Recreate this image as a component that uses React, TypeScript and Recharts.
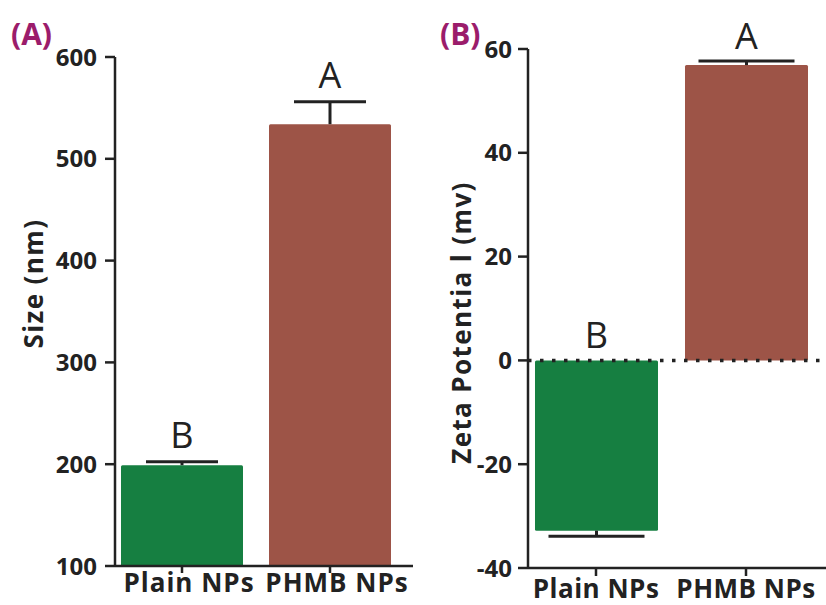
import React from 'react';
import { ComposedChart, Bar, Cell, XAxis, YAxis, ReferenceLine } from 'recharts';

const categories = ['Plain NPs', 'PHMB NPs'];
const barColors = ['#167f41', '#9d5447'];
const groupLetters = ['B', 'A'];

const sizeValues = [199, 534];
const sizeErrors = [3.5, 22];
const sizeTicks = [100, 200, 300, 400, 500, 600];
const sizeDomain = [100, 600];

const zetaValues = [-32.8, 56.9];
const zetaErrors = [1.1, 0.8];
const zetaTicks = [-40, -20, 0, 20, 40, 60];
const zetaDomain = [-40, 60];

const sizeData = categories.map((name, i) => ({ pos: i + 1, name, value: sizeValues[i], err: sizeErrors[i], letter: groupLetters[i] }));
const zetaData = categories.map((name, i) => ({ pos: i + 1, name, value: zetaValues[i], err: zetaErrors[i], letter: groupLetters[i] }));

const INK = '#222';
const FONT = "'Open Sans', sans-serif";

const makeShape = (base: number, capHalf: number, letterGap: number) => (props: any) => {
  const { x, y, width, height, fill, payload } = props;
  const val = payload.value;
  const top = Math.min(y, y + height);
  const h = Math.abs(height);
  const bottom = top + h;
  const ppu = h / Math.abs(val - base);
  const cx = x + width / 2;
  const positive = val >= base;
  const errEnd = positive ? top - payload.err * ppu : bottom + payload.err * ppu;
  const stemStart = positive ? top : bottom;
  const letterY = positive ? errEnd - letterGap : top - letterGap;
  return (
    <g>
      <rect x={x} y={top} width={width} height={h} fill={fill} rx={1.5} />
      <line x1={cx} y1={stemStart} x2={cx} y2={errEnd} stroke={INK} strokeWidth={3} />
      <line x1={cx - capHalf} y1={errEnd} x2={cx + capHalf} y2={errEnd} stroke={INK} strokeWidth={3} />
      <text x={cx} y={letterY} textAnchor="middle" fontFamily={FONT} fontSize={36} fill={INK}>
        {payload.letter}
      </text>
    </g>
  );
};

const yTick = { fontFamily: FONT, fontWeight: 700, fontSize: 24, fill: INK };
const xTickA = { fontFamily: FONT, fontWeight: 700, fontSize: 26, fill: INK, letterSpacing: 1, dx: 7 };
const xTickB = { fontFamily: FONT, fontWeight: 700, fontSize: 26, fill: INK, letterSpacing: 0.5 };
const axisLineStyle = { stroke: INK, strokeWidth: 2.5 };
const yLabelStyle = { fontFamily: FONT, fontWeight: 700, fontSize: 26, fill: INK, letterSpacing: 1.4 };

export default function App() {
  return (
    <div style={{ position: 'absolute', left: 0, top: 0, width: 826, height: 605, background: '#fff' }}>
      <div style={{ position: 'absolute', left: 0, top: 0 }}>
        <ComposedChart width={420} height={605} data={sizeData} margin={{ top: 57, right: 7, bottom: 4, left: 0 }}>
          <XAxis
            type="number"
            dataKey="pos"
            domain={[0.5473, 2.5608]}
            ticks={[1, 2]}
            tickFormatter={(v: number) => categories[v - 1]}
            height={35}
            tick={xTickA}
            tickSize={7}
            tickMargin={1}
            axisLine={axisLineStyle}
            tickLine={axisLineStyle}
          />
          <YAxis
            type="number"
            domain={sizeDomain}
            ticks={sizeTicks}
            width={115}
            tick={yTick}
            tickSize={10}
            tickMargin={8}
            axisLine={axisLineStyle}
            tickLine={axisLineStyle}
            label={{ value: 'Size (nm)', angle: -90, position: 'center', dx: -24, dy: -28, style: yLabelStyle }}
          />
          <Bar dataKey="value" barSize={122} isAnimationActive={false} shape={makeShape(sizeDomain[0], 36, 14)}>
            {sizeData.map((d, i) => (
              <Cell key={d.name} fill={barColors[i]} />
            ))}
          </Bar>
        </ComposedChart>
      </div>
      <div style={{ position: 'absolute', left: 420, top: 0 }}>
        <ComposedChart width={406} height={605} data={zetaData} margin={{ top: 49, right: 0, bottom: 2, left: 0 }}>
          <XAxis
            type="number"
            dataKey="pos"
            domain={[0.5467, 2.5333]}
            ticks={[1, 2]}
            tickFormatter={(v: number) => categories[v - 1]}
            height={35}
            tick={xTickB}
            tickSize={8}
            tickMargin={4}
            axisLine={axisLineStyle}
            tickLine={axisLineStyle}
          />
          <YAxis
            type="number"
            domain={zetaDomain}
            ticks={zetaTicks}
            width={108}
            tick={yTick}
            tickSize={10}
            tickMargin={6}
            axisLine={axisLineStyle}
            tickLine={axisLineStyle}
            label={{ value: 'Zeta Potentia l (mv)', angle: -90, position: 'center', dx: -12, dy: 14, style: yLabelStyle }}
          />
          <Bar dataKey="value" barSize={123} isAnimationActive={false} shape={makeShape(0, 48, 12)}>
            {zetaData.map((d, i) => (
              <Cell key={d.name} fill={barColors[i]} />
            ))}
          </Bar>
          <ReferenceLine y={0} stroke={INK} strokeWidth={3.5} strokeDasharray="3.5 8.5" />
        </ComposedChart>
      </div>
      <svg width={826} height={605} style={{ position: 'absolute', left: 0, top: 0, pointerEvents: 'none' }}>
        <text x={11} y={45} fontFamily={FONT} fontWeight={700} fontSize={30} fill="#9b1c6b">(A)</text>
        <text x={440} y={45} fontFamily={FONT} fontWeight={700} fontSize={30} fill="#9b1c6b">(B)</text>
      </svg>
    </div>
  );
}
